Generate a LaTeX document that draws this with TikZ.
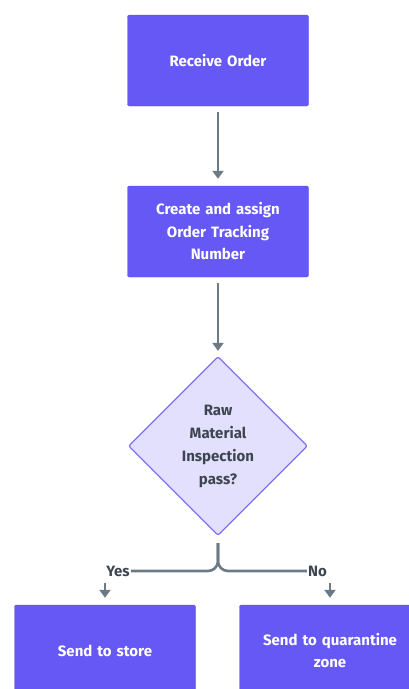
\documentclass[tikz,border=0pt]{standalone}
\usepackage{fontspec}
\setmainfont{Fira Sans}
\usetikzlibrary{shapes.geometric,arrows.meta,calc}
\definecolor{boxfill}{HTML}{6558F5}
\definecolor{diafill}{HTML}{E2E0FC}
\definecolor{diadraw}{HTML}{7F72F0}
\definecolor{linegray}{HTML}{6C7A86}
\definecolor{txtdark}{HTML}{3D4650}
\tikzset{
  procbox/.style={rectangle, rounded corners=2pt, fill=boxfill, draw=boxfill!90!black, line width=0.4pt,
    minimum width=181pt, minimum height=91pt, text=white, font=\fontsize{15}{22.5}\selectfont\bfseries,
    align=center, text width=165pt},
  decbox/.style={diamond, fill=diafill, draw=diadraw, line width=1.2pt, rounded corners=2pt,
    minimum width=179pt, minimum height=179pt, inner sep=0pt, text=txtdark,
    font=\fontsize{15}{23}\selectfont\bfseries, align=center},
  conn/.style={draw=linegray, line width=2.6pt},
  arr/.style={conn, -{Triangle[width=11pt,length=8pt]}},
  lbl/.style={text=txtdark, font=\fontsize{15}{17}\selectfont\bfseries, inner sep=1pt}
}
\begin{document}
\begin{tikzpicture}[x=1pt,y=-1pt]
\useasboundingbox (0,0) rectangle (409,689);
\clip (0,0) rectangle (409,689);
\node[procbox] (recv) at (218,60.5) {Receive Order};
\node[procbox] (create) at (218,231.5) {Create and assign\\Order Tracking\\Number};
\node[decbox] (dec) at (218,446) {Raw\\Material\\Inspection\\pass?};
\node[procbox] (store) at (105,650.5) {Send to store};
\node[procbox] (quar) at (330,650.5) {Send to quarantine\\zone};
\node[lbl] (yes) at (118,571) {Yes};
\node[lbl] (no) at (317.5,571) {No};
\coordinate (split) at (218,571);
\coordinate (ya) at (105,583);
\coordinate (na) at (330,583);
\draw[arr, shorten <=6pt, shorten >=7pt] (recv) -- (create);
\draw[arr, shorten <=6pt, shorten >=5pt] (create) -- (dec);
\draw[conn, rounded corners=10pt] ($(dec.south)+(0,7)$) -- (split) -- (yes.east);
\draw[conn, rounded corners=10pt] ($(dec.south)+(0,7)$) -- (split) -- (no.west);
\draw[arr, shorten >=7pt] (ya) -- (store);
\draw[arr, shorten >=7pt] (na) -- (quar);
\end{tikzpicture}
\end{document}
